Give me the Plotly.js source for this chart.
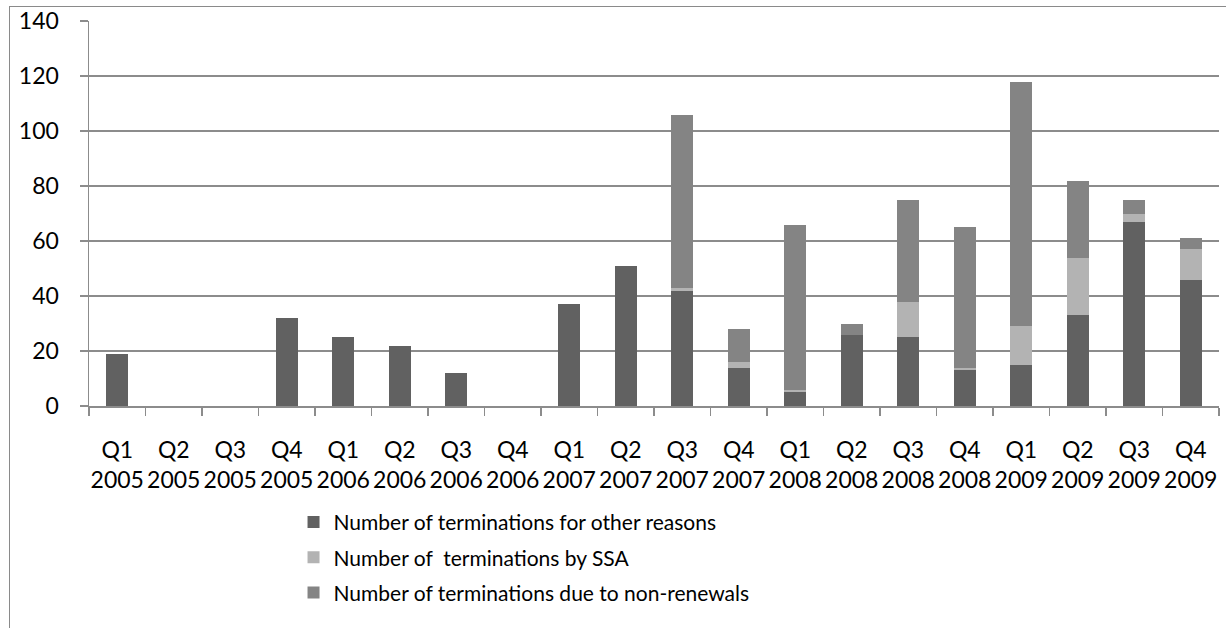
<!DOCTYPE html>
<html>
<head>
<meta charset="utf-8">
<script src="https://cdn.plot.ly/plotly-3.0.1.min.js"></script>
<style>
  html, body { margin: 0; padding: 0; background: #ffffff; overflow: hidden; }
  #frame { position: absolute; left: 9px; top: 6px; width: 1400px; height: 800px;
           border-left: 1.5px solid #8a8a8a; border-top: 1.5px solid #8a8a8a; }
  #chart { position: absolute; left: 0; top: 0; width: 1226px; height: 628px; }
</style>
</head>
<body>
<div id="frame"></div>
<div id="chart"></div>
<script>
// Quarter labels (two lines: quarter, year)
const quarters = [
  "Q1<br>2005", "Q2<br>2005", "Q3<br>2005", "Q4<br>2005",
  "Q1<br>2006", "Q2<br>2006", "Q3<br>2006", "Q4<br>2006",
  "Q1<br>2007", "Q2<br>2007", "Q3<br>2007", "Q4<br>2007",
  "Q1<br>2008", "Q2<br>2008", "Q3<br>2008", "Q4<br>2008",
  "Q1<br>2009", "Q2<br>2009", "Q3<br>2009", "Q4<br>2009"
];

// Terminations per quarter, by reason
const otherReasons = [19, 0, 0, 32, 25, 22, 12, 0, 37, 51, 42, 14, 5, 26, 25, 13, 15, 33, 67, 46];
const bySSA        = [0, 0, 0, 0, 0, 0, 0, 0, 0, 0, 1, 2, 1, 0, 13, 1, 14, 21, 3, 11];
const nonRenewals  = [0, 0, 0, 0, 0, 0, 0, 0, 0, 0, 63, 12, 60, 4, 37, 51, 89, 28, 5, 4];

const seriesNames = [
  "Number of terminations for other reasons",
  "Number of  terminations by SSA",
  "Number of terminations due to non-renewals"
];
const seriesColors = ["#616161", "#b3b3b3", "#848484"];
const seriesValues = [otherReasons, bySSA, nonRenewals];

const traces = seriesValues.map((vals, i) => ({
  type: "bar",
  x: quarters,
  y: vals,
  name: seriesNames[i],
  legendgroup: "g" + i,
  marker: { color: seriesColors[i], line: { width: 0 } },
  hoverinfo: "skip"
}));

const gridColor = "#8c8c8c";
const fontFamily = "Lato, 'Open Sans', sans-serif";

const layout = {
  width: 1226,
  height: 628,
  margin: { l: 89, r: 7, t: 21, b: 222, pad: 0 },
  paper_bgcolor: "rgba(0,0,0,0)",
  plot_bgcolor: "rgba(0,0,0,0)",
  barmode: "stack",
  bargap: 0.615,
  font: { family: fontFamily, color: "#000000" },
  xaxis: {
    type: "category",
    showgrid: false,
    showline: true,
    linecolor: gridColor,
    linewidth: 1.5,
    ticks: "outside",
    tickson: "boundaries",
    ticklen: 8,
    tickwidth: 1.5,
    tickcolor: gridColor,
    tickangle: 0,
    ticklabelstandoff: 23,
    tickfont: { size: 23, family: fontFamily, color: "#000000" }
  },
  yaxis: {
    range: [0, 140],
    dtick: 20,
    tick0: 0,
    showgrid: true,
    gridcolor: gridColor,
    gridwidth: 1.5,
    zeroline: false,
    showline: true,
    linecolor: gridColor,
    linewidth: 1.5,
    ticks: "outside",
    ticklen: 8,
    tickwidth: 1.5,
    tickcolor: gridColor,
    ticklabelstandoff: 16,
    tickfont: { size: 23, family: fontFamily, color: "#000000" }
  },
  showlegend: true,
  legend: {
    orientation: "v",
    traceorder: "grouped",
    tracegroupgap: 5,
    x: 0.181,
    xanchor: "left",
    y: -0.249,
    yanchor: "top",
    bgcolor: "rgba(0,0,0,0)",
    borderwidth: 0,
    font: { size: 21, family: fontFamily, color: "#000000" },
    itemclick: false,
    itemdoubleclick: false
  }
};

Plotly.newPlot("chart", traces, layout, { displayModeBar: false, staticPlot: true });
</script>
</body>
</html>
